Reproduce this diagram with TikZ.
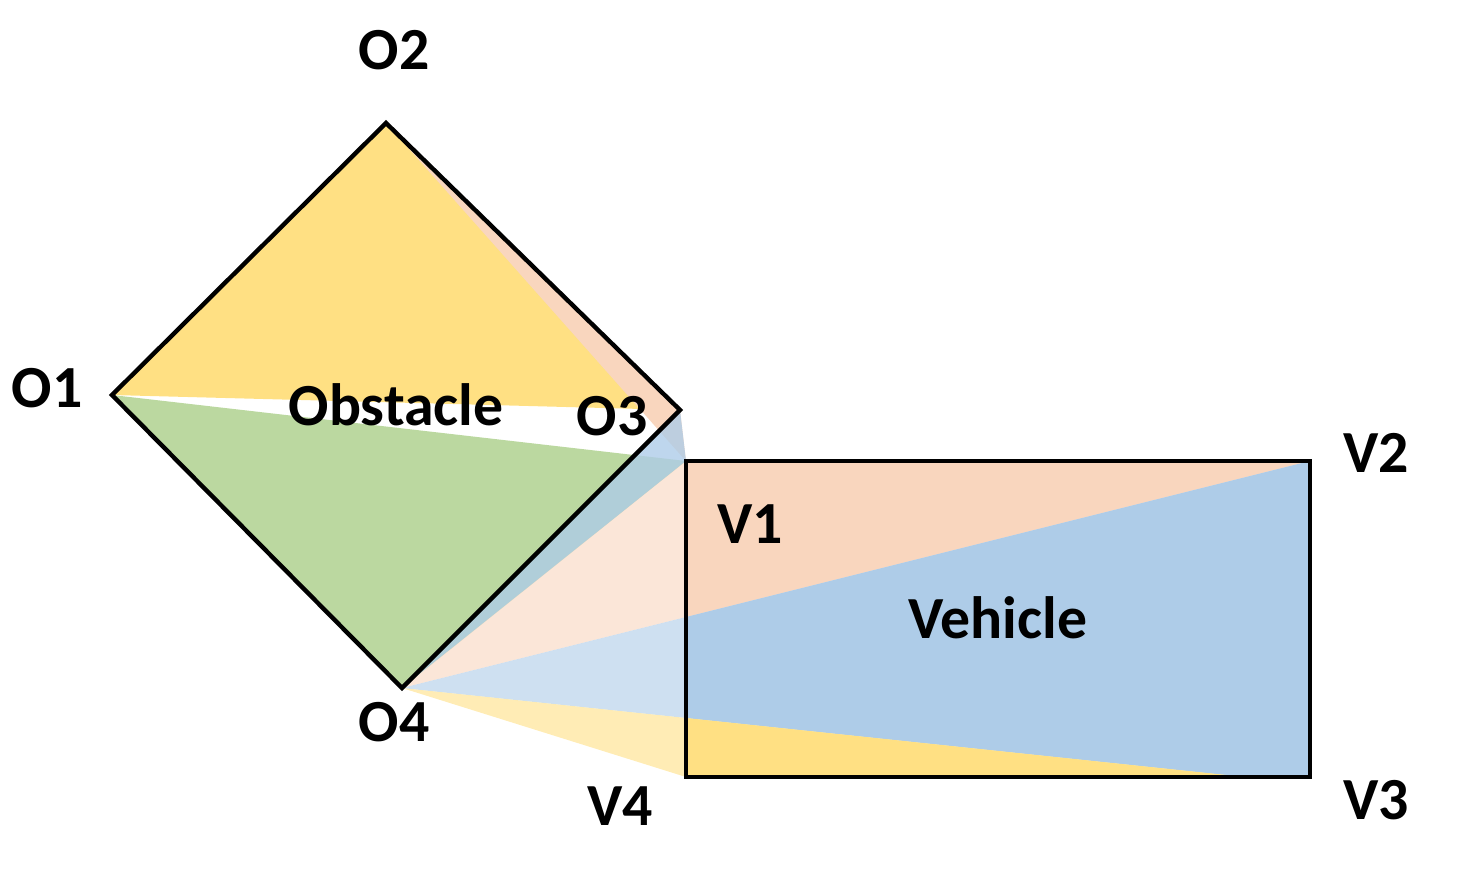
\documentclass[tikz,border=0pt]{standalone}
\usepackage{fontspec}
\setmainfont{Carlito}
\begin{document}
\begin{tikzpicture}[x=0.02cm,y=-0.02cm,
  lab/.style={font=\fontsize{34}{40}\selectfont\bfseries, inner sep=0pt},
  edge/.style={line width=2.5pt, line join=miter}]
\definecolor{cy}{HTML}{FFE083}
\definecolor{co}{HTML}{F9D6BE}
\definecolor{cg}{HTML}{BBD8A0}
\definecolor{cb}{HTML}{AECCE8}
\useasboundingbox (0,0) rectangle (1463,879);
\coordinate (O1) at (112,395);
\coordinate (O2) at (386,123);
\coordinate (O3) at (680,410);
\coordinate (O4) at (402,688);
\coordinate (V1) at (686,461);
\coordinate (V2) at (1310,461);
\coordinate (V3) at (1310,777);
\coordinate (V4) at (686,777);
\coordinate (B) at (1245,777);
\fill[cy] (O1) -- (O2) -- (O3) -- cycle;
\fill[co] (O2) -- (O3) -- (V1) -- cycle;
\fill[cg] (O1) -- (V1) -- (O4) -- cycle;
\fill[cb, opacity=0.8] (O3) -- (V1) -- (O4) -- cycle;
\fill[co, opacity=0.6] (O4) -- (V1) -- (V2) -- cycle;
\fill[cb, opacity=0.6] (O4) -- (V2) -- (B) -- cycle;
\fill[cy, opacity=0.6] (O4) -- (B) -- (V4) -- cycle;
\begin{scope}
\clip (V1) rectangle (V3);
\fill[co] (O4) -- (V1) -- (V2) -- cycle;
\fill[cb] (O4) -- (V2) -- (V3) -- (B) -- cycle;
\fill[cy] (O4) -- (B) -- (V4) -- cycle;
\end{scope}
\draw[edge] (O1) -- (O2) -- (O3) -- (O4) -- cycle;
\draw[edge] (V1) rectangle (V3);
\node[lab] (l1) at (47,388) {O1};
\node[lab] (l2) at (394,50) {O2};
\node[lab] (l3) at (612,416) {O3};
\node[lab] (l4) at (394,722) {O4};
\node[lab] (lv1) at (750,524) {V1};
\node[lab] (lv2) at (1376,453) {V2};
\node[lab] (lv3) at (1376,800) {V3};
\node[lab] (lv4) at (620,806) {V4};
\node[lab] (ob) at (396,405) {Obstacle};
\node[lab] (ve) at (998,618) {Vehicle};
\end{tikzpicture}
\end{document}
